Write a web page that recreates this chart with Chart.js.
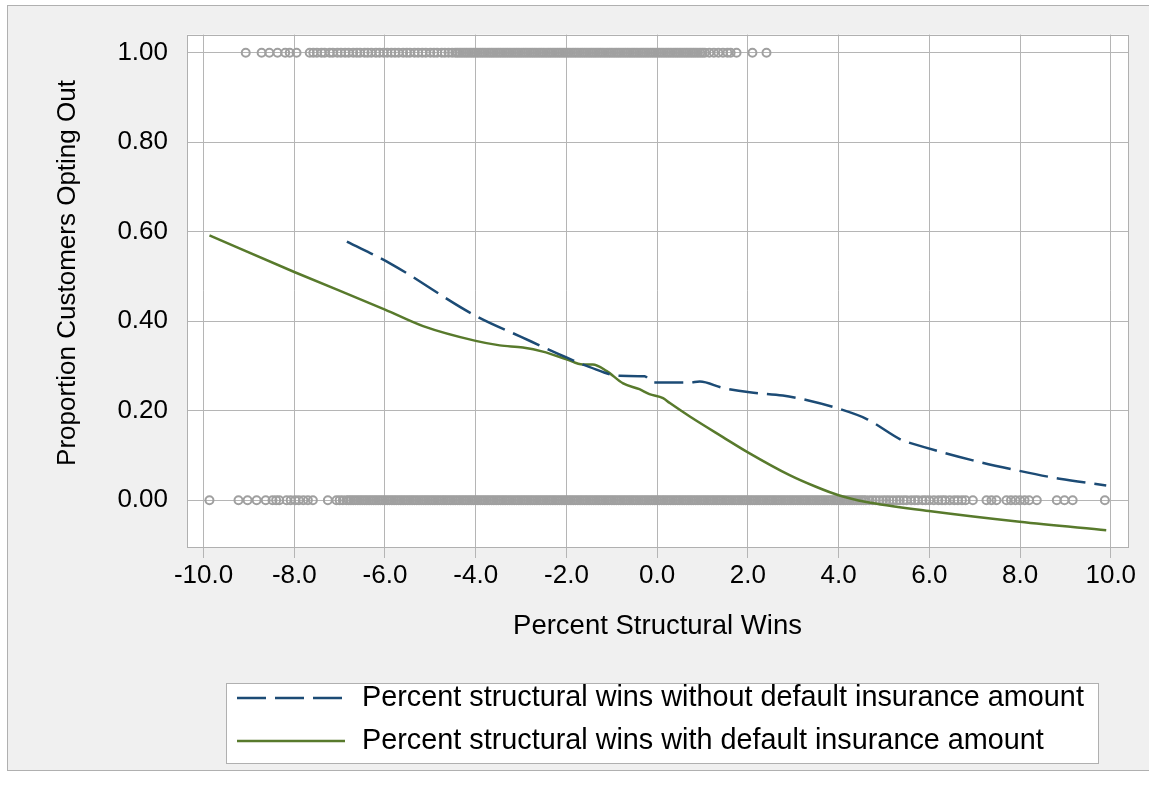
<!DOCTYPE html>
<html>
<head>
<meta charset="utf-8">
<script src="https://cdn.jsdelivr.net/npm/chart.js@4"></script>
<style>
  html, body { margin: 0; padding: 0; background: #ffffff; }
  #wrap { width: 1149px; height: 796px; }
</style>
</head>
<body>
<div id="wrap"><canvas id="chart" width="1149" height="796"></canvas></div>
<script>
// Tick labels
const xTicks = [-10, -8, -6, -4, -2, 0, 2, 4, 6, 8, 10];
const yTicks = [0, 0.2, 0.4, 0.6, 0.8, 1.0];

// Axis titles
const xTitle = 'Percent Structural Wins';
const yTitle = 'Proportion Customers Opting Out';

// Customers who opted out (plotted at 1.00)
const optOutX = [
    -9.07, -8.72, -8.55, -8.37, -8.2, -8.1, -7.95,
    -7.66, -7.58, -7.5, -7.4, -7.33, -7.22, -7.15, -7.05, -6.97, -6.88, -6.8, -6.7, -6.62, -6.55,
    -6.45, -6.38, -6.3, -6.2, -6.12, -6.03, -5.95, -5.86, -5.78, -5.7, -5.6, -5.52, -5.45, -5.35,
    -5.27, -5.18, -5.1, -5.0, -4.92, -4.85, -4.75, -4.68, -4.6, -4.52,
    -4.45, -4.4, -4.35, -4.3, -4.25, -4.2, -4.15, -4.1, -4.05, -4,
    -3.95, -3.9, -3.85, -3.8, -3.75, -3.7, -3.65, -3.6, -3.55, -3.5, -3.45, -3.4, -3.35, -3.3, -3.25, -3.2, -3.15, -3.1, -3.05, -3,
    -2.95, -2.9, -2.85, -2.8, -2.75, -2.7, -2.65, -2.6, -2.55, -2.5, -2.45, -2.4, -2.35, -2.3, -2.25, -2.2, -2.15, -2.1, -2.05, -2,
    -1.95, -1.9, -1.85, -1.8, -1.75, -1.7, -1.65, -1.6, -1.55, -1.5, -1.45, -1.4, -1.35, -1.3, -1.25, -1.2, -1.15, -1.1, -1.05, -1,
    -0.95, -0.9, -0.85, -0.8, -0.75, -0.7, -0.65, -0.6, -0.55, -0.5, -0.45, -0.4, -0.35, -0.3, -0.25, -0.2, -0.15, -0.1, -0.05, 0,
    0.05, 0.1, 0.15, 0.2, 0.25, 0.3, 0.35, 0.4, 0.45, 0.5, 0.55, 0.6, 0.65, 0.7, 0.75, 0.8, 0.85, 0.9, 0.95, 1, 1.05,
    1.15, 1.25, 1.35, 1.45, 1.55, 1.62, 1.75, 2.1, 2.41
];

// Customers who stayed (plotted at 0.00)
const stayX = [
    -9.87, -9.23, -9.03, -8.83, -8.63, -8.48, -8.4, -8.33, -8.17, -8.08, -7.98, -7.9, -7.8, -7.7, -7.59,
    -7.26, -7.07, -7.0, -6.93,
    -6.85, -6.8, -6.75, -6.7, -6.65, -6.6, -6.55, -6.5, -6.45, -6.4, -6.35, -6.3, -6.25, -6.2, -6.15, -6.1, -6.05, -6,
    -5.95, -5.9, -5.85, -5.8, -5.75, -5.7, -5.65, -5.6, -5.55, -5.5, -5.45, -5.4, -5.35, -5.3, -5.25, -5.2, -5.15, -5.1, -5.05, -5,
    -4.95, -4.9, -4.85, -4.8, -4.75, -4.7, -4.65, -4.6, -4.55, -4.5, -4.45, -4.4, -4.35, -4.3, -4.25, -4.2, -4.15, -4.1, -4.05, -4,
    -3.95, -3.9, -3.85, -3.8, -3.75, -3.7, -3.65, -3.6, -3.55, -3.5, -3.45, -3.4, -3.35, -3.3, -3.25, -3.2, -3.15, -3.1, -3.05, -3,
    -2.95, -2.9, -2.85, -2.8, -2.75, -2.7, -2.65, -2.6, -2.55, -2.5, -2.45, -2.4, -2.35, -2.3, -2.25, -2.2, -2.15, -2.1, -2.05, -2,
    -1.95, -1.9, -1.85, -1.8, -1.75, -1.7, -1.65, -1.6, -1.55, -1.5, -1.45, -1.4, -1.35, -1.3, -1.25, -1.2, -1.15, -1.1, -1.05, -1,
    -0.95, -0.9, -0.85, -0.8, -0.75, -0.7, -0.65, -0.6, -0.55, -0.5, -0.45, -0.4, -0.35, -0.3, -0.25, -0.2, -0.15, -0.1, -0.05, 0,
    0.05, 0.1, 0.15, 0.2, 0.25, 0.3, 0.35, 0.4, 0.45, 0.5, 0.55, 0.6, 0.65, 0.7, 0.75, 0.8, 0.85, 0.9, 0.95, 1,
    1.05, 1.1, 1.15, 1.2, 1.25, 1.3, 1.35, 1.4, 1.45, 1.5, 1.55, 1.6, 1.65, 1.7, 1.75, 1.8, 1.85, 1.9, 1.95, 2,
    2.05, 2.1, 2.15, 2.2, 2.25, 2.3, 2.35, 2.4, 2.45, 2.5, 2.55, 2.6, 2.65, 2.7, 2.75, 2.8, 2.85, 2.9, 2.95, 3,
    3.05, 3.1, 3.15, 3.2, 3.25, 3.3, 3.35, 3.4, 3.45, 3.5, 3.55, 3.6, 3.65, 3.7, 3.75, 3.8, 3.85, 3.9, 3.95, 4,
    4.05, 4.1, 4.15, 4.2, 4.25, 4.3, 4.35, 4.4, 4.45, 4.5, 4.55, 4.6,
    4.68, 4.75, 4.82, 4.9, 4.98, 5.05, 5.12, 5.2, 5.28, 5.35, 5.43, 5.5, 5.6, 5.68, 5.75, 5.85, 5.92,
    6.0, 6.1, 6.2, 6.28, 6.35, 6.45, 6.55, 6.63, 6.72, 6.8, 6.96, 7.26, 7.37, 7.48,
    7.7, 7.8, 7.9, 8.0, 8.1, 8.2, 8.37, 8.81, 8.98, 9.16, 9.87
];

// Fitted curve: without default insurance amount
const noDefaultX = [-6.84, -5.9, -4.0, -3.0, -2.0, -1.5, -0.83, -0.28, -0.09, 0.72, 0.94, 1.45, 2.04, 2.77, 3.29, 4.02, 4.61, 5.42, 5.57, 6.96, 7.92, 8.87, 9.9];
const noDefaultY = [0.578, 0.530, 0.412, 0.365, 0.319, 0.298, 0.278, 0.277, 0.263, 0.263, 0.265, 0.251, 0.241, 0.234, 0.224, 0.204, 0.182, 0.133, 0.128, 0.089, 0.067, 0.048, 0.033];

// Fitted curve: with default insurance amount
const withDefaultX = [-9.87, -8.0, -6.0, -5.16, -4.0, -3.47, -2.96, -2.52, -2.0, -1.64, -1.42, -1.12, -0.75, -0.39, -0.17, 0.13, 0.28, 0.72, 1.45, 2.0, 2.92, 3.5, 4.0, 4.61, 5.99, 7.99, 9.9];
const withDefaultY = [0.592, 0.510, 0.426, 0.389, 0.356, 0.346, 0.341, 0.332, 0.315, 0.303, 0.303, 0.289, 0.261, 0.248, 0.237, 0.228, 0.217, 0.187, 0.141, 0.107, 0.056, 0.030, 0.011, -0.004, -0.024, -0.048, -0.067];

const colors = {
    noDefault: '#1c4b75',
    withDefault: '#587a2c',
    points: '#a0a0a0',
    grid: '#b5b5b5',
    frame: '#b0b0b0'
};

const FONT = "'Liberation Sans', Arial, sans-serif";

// Background frame, white plot area, plot border, y title and boxed legend
const framePlugin = {
    id: 'framePlugin',
    beforeDraw(chart) {
        const { ctx, chartArea: a } = chart;
        ctx.save();
        ctx.fillStyle = '#ffffff';
        ctx.fillRect(0, 0, chart.width, chart.height);
        ctx.fillStyle = '#f0f0f0';
        ctx.fillRect(7.5, 5.5, 1150, 765);
        ctx.strokeStyle = colors.frame;
        ctx.lineWidth = 1;
        ctx.strokeRect(7.5, 5.5, 1150, 765);
        ctx.fillStyle = '#ffffff';
        ctx.fillRect(a.left, a.top, a.right - a.left, a.bottom - a.top);
        ctx.restore();
    },
    afterDraw(chart) {
        const { ctx, chartArea: a } = chart;
        ctx.save();
        ctx.strokeStyle = colors.frame;
        ctx.lineWidth = 1;
        ctx.strokeRect(Math.round(a.left) + 0.5, Math.round(a.top) + 0.5,
            Math.round(a.right - a.left), Math.round(a.bottom - a.top));

        // y axis title (sits a little above the plot centre, as in the original)
        ctx.save();
        ctx.translate(68, 273);
        ctx.rotate(-Math.PI / 2);
        ctx.fillStyle = '#000000';
        ctx.font = '26px ' + FONT;
        ctx.textAlign = 'center';
        ctx.textBaseline = 'middle';
        ctx.fillText(yTitle, 0, 0);
        ctx.restore();

        // legend box
        ctx.fillStyle = '#ffffff';
        ctx.fillRect(226.5, 683.5, 872, 80);
        ctx.strokeRect(226.5, 683.5, 872, 80);

        const items = chart.data.datasets.filter(d => d.inLegend);
        items.forEach((d, i) => {
            const y = 698 + i * 43;
            ctx.strokeStyle = d.borderColor;
            ctx.lineWidth = 2.5;
            ctx.setLineDash(d.borderDash || []);
            ctx.beginPath();
            ctx.moveTo(237, y);
            ctx.lineTo(345, y);
            ctx.stroke();
            ctx.setLineDash([]);
            ctx.fillStyle = '#000000';
            ctx.font = '28.8px ' + FONT;
            ctx.textAlign = 'left';
            ctx.textBaseline = 'middle';
            ctx.fillText(d.label, 362, y);
        });
        ctx.restore();
    }
};

const toPoints = (xs, ys) => xs.map((x, i) => ({ x: x, y: ys[i] }));
const constPoints = (xs, yv) => xs.map(x => ({ x: x, y: yv }));

const chartData = {
    datasets: [
        {
            label: 'Percent structural wins without default insurance amount',
            inLegend: true,
            data: toPoints(noDefaultX, noDefaultY),
            showLine: true,
            borderColor: colors.noDefault,
            borderWidth: 2.5,
            borderDash: [29, 9],
            pointRadius: 0,
            cubicInterpolationMode: 'monotone',
            order: 0
        },
        {
            label: 'Percent structural wins with default insurance amount',
            inLegend: true,
            data: toPoints(withDefaultX, withDefaultY),
            showLine: true,
            borderColor: colors.withDefault,
            borderWidth: 2.5,
            pointRadius: 0,
            cubicInterpolationMode: 'monotone',
            order: 0
        },
        {
            label: 'Opted out',
            data: constPoints(optOutX, 1),
            pointRadius: 4,
            pointBorderWidth: 2,
            pointBorderColor: colors.points,
            pointBackgroundColor: 'rgba(0,0,0,0)',
            order: 1
        },
        {
            label: 'Stayed',
            data: constPoints(stayX, 0),
            pointRadius: 4,
            pointBorderWidth: 2,
            pointBorderColor: colors.points,
            pointBackgroundColor: 'rgba(0,0,0,0)',
            order: 1
        }
    ]
};

const chartOptions = {
    responsive: false,
    animation: false,
    layout: {
        padding: { left: 0, top: 32, right: 21, bottom: 152 }
    },
    plugins: {
        legend: { display: false },
        tooltip: { enabled: false }
    },
    scales: {
        x: {
            type: 'linear',
            min: -10.365,
            max: 10.38,
            afterBuildTicks: scale => { scale.ticks = xTicks.map(v => ({ value: v })); },
            afterFit: scale => { scale.height = 97; },
            grid: {
                color: colors.grid,
                lineWidth: 1,
                tickLength: 11
            },
            border: { display: false },
            ticks: {
                color: '#000000',
                padding: 2,
                maxRotation: 0,
                font: { family: FONT, size: 26 },
                callback: v => v.toFixed(1)
            },
            title: {
                display: true,
                text: xTitle,
                color: '#000000',
                padding: { top: 2, bottom: 1 },
                font: { family: FONT, size: 27.5 }
            }
        },
        y: {
            type: 'linear',
            min: -0.1046,
            max: 1.0405,
            afterBuildTicks: scale => { scale.ticks = yTicks.map(v => ({ value: v })); },
            afterFit: scale => { scale.width = 187; },
            grid: {
                color: colors.grid,
                lineWidth: 1,
                drawTicks: false
            },
            border: { display: false },
            ticks: {
                color: '#000000',
                padding: 19,
                font: { family: FONT, size: 26 },
                callback: v => v.toFixed(2)
            },
            title: { display: false }
        }
    }
};

const ctx = document.getElementById('chart').getContext('2d');
const resultChart = new Chart(ctx, {
    type: 'scatter',
    data: chartData,
    options: chartOptions,
    plugins: [framePlugin]
});
</script>
</body>
</html>
